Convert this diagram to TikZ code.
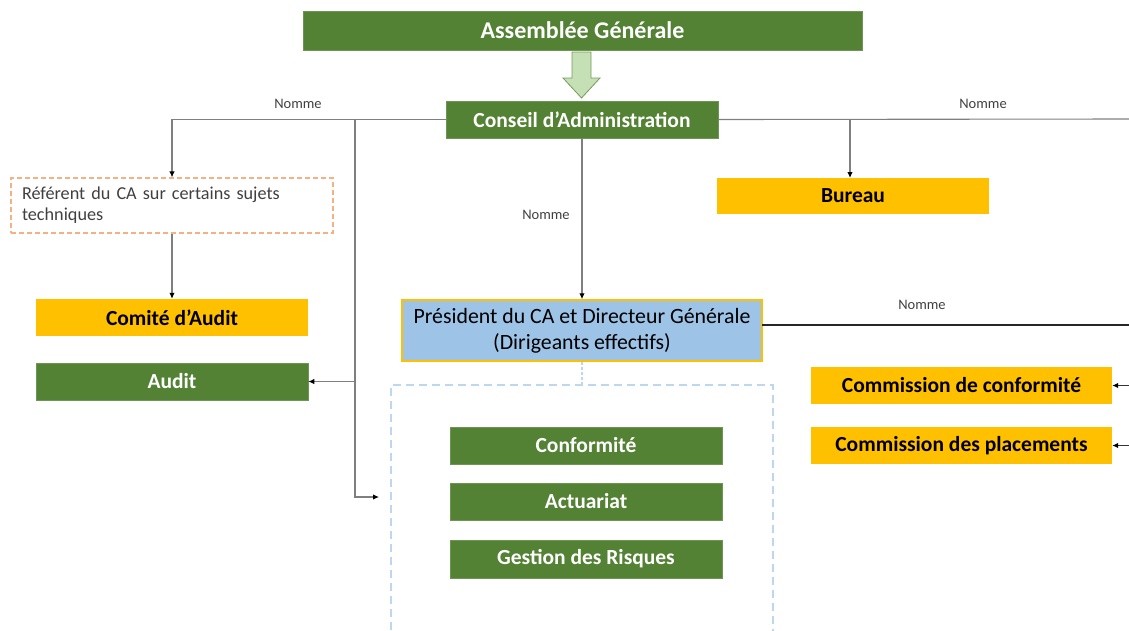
\documentclass[tikz,border=0pt]{standalone}
\usepackage{fontspec}
\setmainfont{Carlito}
\usetikzlibrary{arrows.meta}
\definecolor{dgreen}{HTML}{548235}
\definecolor{lgreen}{HTML}{C5E0B4}
\definecolor{gold}{HTML}{FFC000}
\definecolor{lblue}{HTML}{9DC3E6}
\definecolor{dashblue}{HTML}{BDD7EE}
\definecolor{dashorange}{HTML}{F4B183}
\definecolor{linegray}{HTML}{7F7F7F}
\definecolor{txtgray}{HTML}{404040}
\begin{document}
\begin{tikzpicture}[x=1pt,y=-1pt,
  box/.style={rectangle, inner sep=0pt, align=center, font=\fontsize{21.5}{25}\selectfont\bfseries},
  gbox/.style={box, fill=dgreen, draw=dgreen!85!white, line width=0.6pt, text=white},
  obox/.style={box, fill=gold, text=black},
  refbox/.style={rectangle, draw=dashorange, dashed, dash pattern=on 5pt off 3pt, line width=1.2pt, align=left, text=txtgray, inner sep=0pt, font=\fontsize{18.2}{21}\selectfont},
  presbox/.style={rectangle, fill=lblue, draw=gold, line width=1.5pt, align=center, text=black, inner sep=0pt, font=\fontsize{21.8}{26}\selectfont},
  grpbox/.style={rectangle, draw=dashblue, dash pattern=on 8pt off 5pt, line width=1.2pt, inner sep=0pt},
  conn/.style={draw=linegray, line width=1.1pt},
  arr/.style={conn, -{Latex[length=6pt,width=5.5pt,color=black]}},
  lbl/.style={text=txtgray, font=\fontsize{14.5}{16}\selectfont, inner sep=0pt}
]
\useasboundingbox (0,0) rectangle (1129,630);

% nodes
\node[gbox, minimum width=559pt, minimum height=39pt, font=\fontsize{24}{28}\selectfont\bfseries] (ag) at (582.5,30.5) {Assemblée Générale};
\node[gbox, minimum width=272pt, minimum height=37pt] (ca) at (582,119.5) {Conseil d’Administration};
\node[refbox, minimum width=322pt, minimum height=55pt, text width=300pt] (ref) at (172,205.5) {Référent du CA sur certains sujets\\techniques};
\node[obox, minimum width=272pt, minimum height=36pt] (bureau) at (853,196) {Bureau};
\node[obox, minimum width=272pt, minimum height=37pt] (comite) at (172,317.5) {Comité d’Audit};
\node[gbox, minimum width=272pt, minimum height=37pt] (audit) at (172,381.5) {Audit};
\node[presbox, minimum width=360pt, minimum height=61pt] (pres) at (582,330.5) {Président du CA et Directeur Générale\\(Dirigeants effectifs)};
\node[grpbox, minimum width=382pt, minimum height=260pt] (grp) at (582,515) {};
\node[gbox, minimum width=272pt, minimum height=37pt] (conf) at (586,445.5) {Conformité};
\node[gbox, minimum width=272pt, minimum height=37pt] (act) at (586,501.5) {Actuariat};
\node[gbox, minimum width=272pt, minimum height=38pt] (gr) at (586,559) {Gestion des Risques};
\node[obox, minimum width=301pt, minimum height=37pt] (cc) at (961.5,385.5) {Commission de conformité};
\node[obox, minimum width=301pt, minimum height=37pt] (cp) at (961.5,445.5) {Commission des placements};

% big arrow
\fill[lgreen, draw=dgreen!80!white, line width=0.8pt]
  (572,52) -- (591,52) -- (591,78) -- (600,78) -- (581.5,98) -- (563,78) -- (572,78) -- cycle;

% coordinates
\coordinate (jl) at (355,119);
\coordinate (jaudit) at (355,381.5);
\coordinate (jgrp) at (355,497);
\coordinate (egrp) at (379,497);
\coordinate (jb) at (850,119);
\coordinate (eb) at (850,178);
\coordinate (rend) at (1129,119);
\coordinate (pstart) at (762,325);
\coordinate (pend) at (1129,325);
\coordinate (ccs) at (1129,385.5);
\coordinate (cps) at (1129,445.5);

% connectors
\draw[arr] (ca.west) -| (ref.north);
\draw[arr] (jl) -- (jgrp) -- (egrp);
\draw[arr] (jaudit) -- (audit.east);
\draw[arr] (ref.south) -- (comite.north);
\draw[arr] (ca.south) -- (pres.north);
\draw[conn] (ca.east) -- (rend);
\draw[arr] (jb) -- (eb);
\draw[draw=black!85, line width=1.8pt] (pstart) -- (pend);
\draw[arr, draw=black!80] (ccs) -- (cc.east);
\draw[arr, draw=black!80] (cps) -- (cp.east);
\draw[draw=dashblue, line width=1.2pt, dash pattern=on 3pt off 2pt] (pres.south) -- (grp.north);

% labels
\node[lbl] (n1) at (298,104) {Nomme};
\node[lbl] (n2) at (983,104) {Nomme};
\node[lbl] (n3) at (546,215) {Nomme};
\node[lbl] (n4) at (922,305) {Nomme};
\end{tikzpicture}
\end{document}
